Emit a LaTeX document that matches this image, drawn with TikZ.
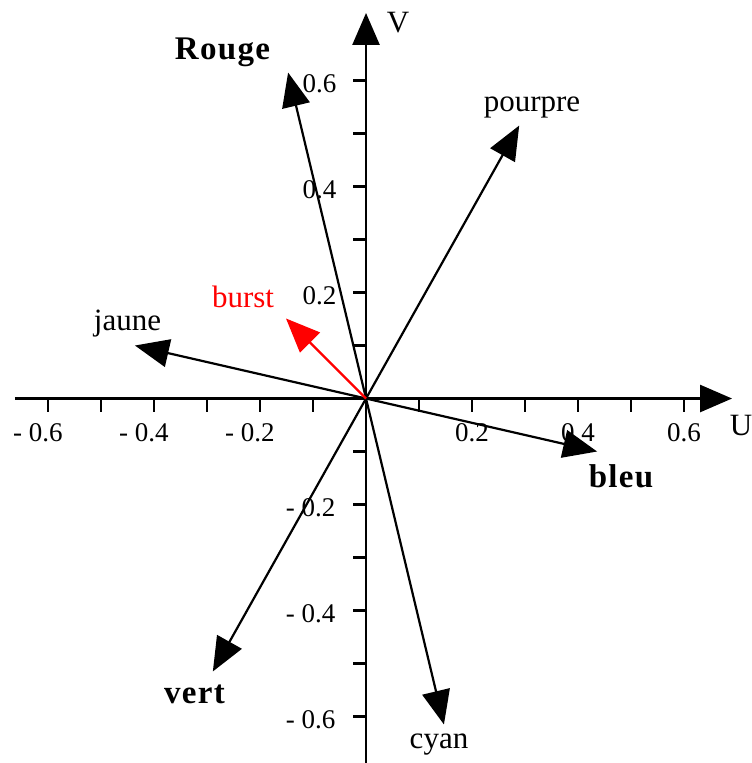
\documentclass[tikz,border=0pt]{standalone}
\usepackage{fontspec}
\setmainfont{Liberation Serif}
\usetikzlibrary{arrows.meta,positioning}

\begin{document}
\begin{tikzpicture}[x=265pt,y=265pt,
    axis/.style={line width=1.3pt,-{Triangle[length=16pt,width=13.5pt]}},
    vec/.style={line width=1.1pt,-{Triangle[length=17pt,width=14pt]}},
    lab/.style={anchor=base,inner sep=0pt,font=\fontsize{15.5}{18}\selectfont},
    blab/.style={anchor=base,inner sep=0pt,font=\fontsize{16.5}{19}\selectfont\bfseries\addfontfeatures{LetterSpace=4}},
    tick/.style={anchor=base,inner sep=0pt,font=\fontsize{13.5}{15}\selectfont}]
  \useasboundingbox (-0.6906,-0.6877) rectangle (0.7264,0.7519);
  % axes
  \coordinate (O) at (0,0);
  \coordinate (uend) at (0.6906,0);
  \coordinate (ustart) at (-0.6623,0);
  \coordinate (vend) at (0,0.7274);
  \coordinate (vstart) at (0,-0.72);
  \draw[axis] (ustart) -- (uend);
  \draw[axis] (vstart) -- (vend);
  \foreach \x in {-0.6,-0.5,-0.4,-0.3,-0.2,-0.1,0.1,0.2,0.3,0.4,0.5,0.6}
    \draw[line width=1.1pt] (\x,0) -- (\x,-0.025);
  \foreach \y in {-0.6,-0.5,-0.4,-0.3,-0.2,-0.1,0.1,0.2,0.3,0.4,0.5,0.6}
    \draw[line width=1.1pt] (0,\y) -- (-0.025,\y);
  \foreach \x/\t in {0.2/0.2,0.4/0.4,0.6/0.6}
    \node[tick] (ux\t) at (\x,-0.082) {\t};
  \foreach \x/\t in {-0.2/0.2,-0.4/0.4,-0.6/0.6}
    \node[tick] (uxm\t) at (\x-0.019,-0.082) {- \t};
  \foreach \y/\t in {0.2/0.2,0.4/0.4,0.6/0.6}
    \node[tick,anchor=base east] (vy\t) at (-0.055,\y-0.023) {\t};
  \foreach \y/\t in {-0.2/0.2,-0.4/0.4,-0.6/0.6}
    \node[tick,anchor=base east] (vym\t) at (-0.057,\y-0.023) {- \t};
  \node[lab] (U) at (0.7075,-0.0689) {U};
  \node[lab] (V) at (0.0604,0.6915) {V};
  % color vectors
  \coordinate (rouge) at (-0.147,0.615);
  \coordinate (pourpre) at (0.289,0.515);
  \coordinate (jaune) at (-0.436,0.100);
  \coordinate (bleu) at (0.436,-0.100);
  \coordinate (cyan) at (0.147,-0.615);
  \coordinate (vert) at (-0.289,-0.515);
  \coordinate (burst) at (-0.151,0.151);
  \foreach \c in {rouge,pourpre,jaune,bleu,cyan,vert}
    \draw[vec] (O) -- (\c);
  \draw[vec,red] (O) -- (burst);
  \node[blab] (lrouge) at (-0.2708,0.6387) {Rouge};
  \node[lab] (lpourpre) at (0.3132,0.5406) {pourpre};
  \node[lab] (ljaune) at (-0.4500,0.1292) {jaune};
  \node[lab,red] (lburst) at (-0.2321,0.1726) {burst};
  \node[blab] (lbleu) at (0.4811,-0.1670) {bleu};
  \node[lab] (lcyan) at (0.1377,-0.6594) {cyan};
  \node[blab] (lvert) at (-0.3236,-0.5745) {vert};
\end{tikzpicture}
\end{document}
